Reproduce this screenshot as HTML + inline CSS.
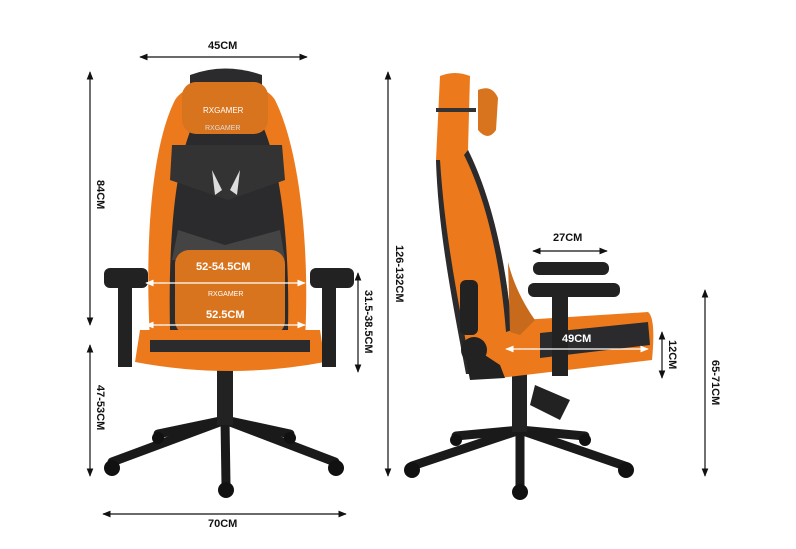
<!DOCTYPE html>
<html><head><meta charset="utf-8"><style>
html,body{margin:0;padding:0;background:#fff;width:796px;height:549px;overflow:hidden}
svg{display:block}
text{font-family:"Liberation Sans",sans-serif;font-size:11px;font-weight:bold;fill:#111}
</style></head><body>
<svg width="796" height="549" viewBox="0 0 796 549" xmlns="http://www.w3.org/2000/svg">
<defs>
<marker id="a" viewBox="0 0 10 10" refX="9" refY="5" markerWidth="7" markerHeight="7" orient="auto-start-reverse"><path d="M0,1 L10,5 L0,9 z" fill="#111"/></marker>
<marker id="w" viewBox="0 0 10 10" refX="9" refY="5" markerWidth="7" markerHeight="7" orient="auto-start-reverse"><path d="M0,1 L10,5 L0,9 z" fill="#fff"/></marker>
</defs>
<rect width="796" height="549" fill="#fff"/>

<!-- FRONT CHAIR base -->
<g stroke="#1a1a1a" stroke-width="9" stroke-linecap="round">
<line x1="225" y1="420" x2="112" y2="462"/>
<line x1="225" y1="420" x2="335" y2="462"/>
<line x1="225" y1="420" x2="226" y2="485"/>
<line x1="225" y1="420" x2="158" y2="434"/>
<line x1="225" y1="420" x2="290" y2="434"/>
</g>
<rect x="217" y="370" width="16" height="55" fill="#222"/>
<g fill="#111">
<circle cx="112" cy="468" r="8"/><circle cx="336" cy="468" r="8"/><circle cx="226" cy="490" r="8"/>
<circle cx="158" cy="438" r="6"/><circle cx="290" cy="438" r="6"/>
</g>
<path d="M150,340 C145,250 150,150 175,100 C190,75 260,75 275,100 C300,150 310,250 305,340 Z" fill="#ec7a1c"/>
<path d="M170,330 C168,240 175,160 195,120 L260,120 C280,160 290,240 288,330 Z" fill="#2b2b2d"/>
<path d="M190,75 Q225,62 262,75 L262,90 L190,90 Z" fill="#2b2b2d"/>
<path d="M172,145 L282,145 L285,180 L228,200 L170,180 Z" fill="#333"/>
<path d="M178,230 L225,245 L280,230 L285,260 L172,260 Z" fill="#444"/>
<path d="M212,170 L222,190 L215,195 Z M240,170 L230,190 L237,195 Z" fill="#ddd"/>
<rect x="182" y="82" width="86" height="52" rx="14" fill="#d9741e"/>
<text x="203" y="113" style="font-size:8px;fill:#fff;font-weight:normal">RXGAMER</text>
<text x="205" y="130" style="font-size:7px;fill:#ddd;font-weight:normal">RXGAMER</text>
<rect x="175" y="250" width="110" height="85" rx="14" fill="#d9741e"/>
<text x="208" y="296" style="font-size:7px;fill:#fff;font-weight:normal">RXGAMER</text>
<path d="M140,330 L320,330 L325,362 Q230,380 135,362 Z" fill="#ec7a1c"/>
<rect x="150" y="340" width="160" height="12" fill="#2b2b2d"/>
<rect x="104" y="268" width="44" height="20" rx="6" fill="#222"/>
<rect x="118" y="285" width="14" height="82" fill="#222"/>
<rect x="310" y="268" width="44" height="20" rx="6" fill="#222"/>
<rect x="322" y="285" width="14" height="82" fill="#222"/>

<!-- SIDE CHAIR base -->
<g stroke="#1a1a1a" stroke-width="9" stroke-linecap="round">
<line x1="520" y1="430" x2="412" y2="466"/>
<line x1="520" y1="430" x2="625" y2="466"/>
<line x1="520" y1="430" x2="520" y2="487"/>
<line x1="520" y1="430" x2="456" y2="436"/>
<line x1="520" y1="430" x2="585" y2="436"/>
</g>
<g fill="#111">
<circle cx="412" cy="470" r="8"/><circle cx="626" cy="470" r="8"/><circle cx="520" cy="492" r="8"/>
<circle cx="456" cy="440" r="6"/><circle cx="585" cy="440" r="6"/>
</g>
<rect x="512" y="370" width="15" height="62" fill="#222"/>
<path d="M535,385 L570,400 L560,420 L530,405 Z" fill="#222"/>
<!-- side seat -->
<path d="M490,322 L648,312 Q656,318 652,360 L500,378 Q475,378 470,360 Z" fill="#ec7a1c"/>
<path d="M540,333 L648,322 L650,345 L540,358 Z" fill="#2b2b2d"/>
<!-- side back -->
<path d="M440,76 Q455,70 470,76 L468,150 C488,190 505,250 512,330 L508,372 L470,376 C455,300 438,220 436,160 Z" fill="#ec7a1c"/>
<path d="M468,150 C488,190 505,250 512,330 L506,332 C500,255 484,195 464,155 Z" fill="#2b2b2d"/>
<path d="M436,160 L440,160 C445,240 460,310 472,374 L466,374 C452,300 438,230 436,160 Z" fill="#2b2b2d"/>
<rect x="436" y="108" width="40" height="4" fill="#333"/>
<path d="M478,90 Q492,84 498,98 L496,130 Q488,142 478,130 Z" fill="#d9741e"/>
<path d="M508,262 C515,290 528,310 535,320 L520,335 L510,332 Z" fill="#c86a1c"/>
<rect x="460" y="280" width="18" height="55" rx="6" fill="#222"/>
<circle cx="474" cy="350" r="13" fill="#222"/>
<path d="M462,340 L500,365 L505,378 L470,380 Z" fill="#222"/>
<!-- side armrest -->
<rect x="533" y="262" width="76" height="13" rx="6" fill="#222"/>
<rect x="528" y="283" width="92" height="14" rx="6" fill="#222"/>
<rect x="552" y="296" width="16" height="80" fill="#222"/>

<!-- dimensions -->
<g stroke="#111" stroke-width="1.2" fill="none">
<line x1="140" y1="57" x2="307" y2="57" marker-start="url(#a)" marker-end="url(#a)"/>
<line x1="90" y1="72" x2="90" y2="325" marker-start="url(#a)" marker-end="url(#a)"/>
<line x1="90" y1="345" x2="90" y2="476" marker-start="url(#a)" marker-end="url(#a)"/>
<line x1="103" y1="514" x2="346" y2="514" marker-start="url(#a)" marker-end="url(#a)"/>
<line x1="358" y1="273" x2="358" y2="372" marker-start="url(#a)" marker-end="url(#a)"/>
<line x1="388" y1="72" x2="388" y2="476" marker-start="url(#a)" marker-end="url(#a)"/>
<line x1="533" y1="251" x2="607" y2="251" marker-start="url(#a)" marker-end="url(#a)"/>
<line x1="662" y1="332" x2="662" y2="378" marker-start="url(#a)" marker-end="url(#a)"/>
<line x1="705" y1="290" x2="705" y2="476" marker-start="url(#a)" marker-end="url(#a)"/>
</g>
<g stroke="#fff" stroke-width="1.2" fill="none">
<line x1="146" y1="283" x2="305" y2="283" marker-start="url(#w)" marker-end="url(#w)"/>
<line x1="146" y1="325" x2="305" y2="325" marker-start="url(#w)" marker-end="url(#w)"/>
<line x1="506" y1="349" x2="648" y2="349" marker-start="url(#w)" marker-end="url(#w)"/>
</g>
<text x="208" y="49">45CM</text>
<text x="208" y="527">70CM</text>
<text x="553" y="241">27CM</text>
<text x="196" y="270" style="fill:#fff">52-54.5CM</text>
<text x="206" y="318" style="fill:#fff">52.5CM</text>
<text x="562" y="342" style="fill:#fff">49CM</text>
<text transform="translate(97,180) rotate(90)">84CM</text>
<text transform="translate(97,385) rotate(90)">47-53CM</text>
<text transform="translate(365,290) rotate(90)">31.5-38.5CM</text>
<text transform="translate(396,245) rotate(90)">126-132CM</text>
<text transform="translate(669,340) rotate(90)">12CM</text>
<text transform="translate(712,360) rotate(90)">65-71CM</text>
</svg>
</body></html>
